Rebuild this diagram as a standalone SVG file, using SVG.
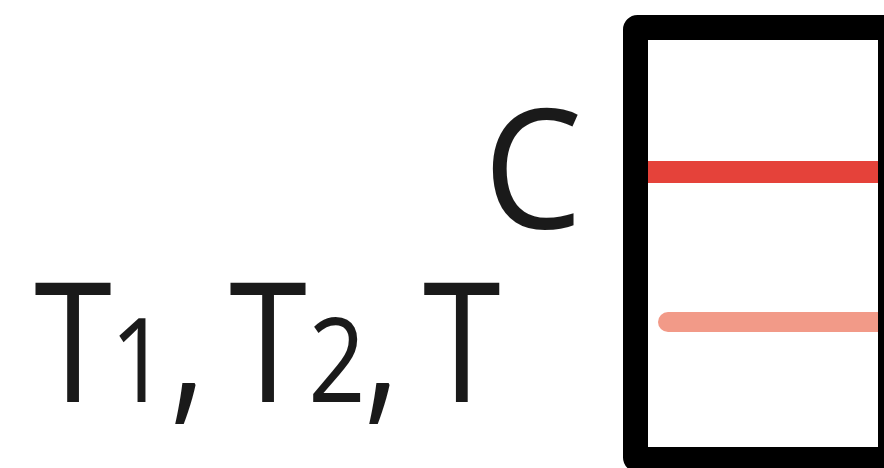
<svg xmlns="http://www.w3.org/2000/svg" width="884" height="468" viewBox="0 0 884 468">
<style>
.lbl{font-family:"Open Sans","Noto Sans","DejaVu Sans",sans-serif;fill:#1a1a1a;text-anchor:middle;font-weight:380}
.big{font-size:166px}
.sub{font-size:118px}
</style>
<rect width="884" height="468" fill="#ffffff"/>
<g id="frame-bg">
<rect x="635.5" y="27.5" width="255" height="432" fill="#ffffff"/>
</g>
<g id="lines">
<line id="line-c" x1="648" y1="172" x2="878" y2="172" stroke="#e5423a" stroke-width="22"/>
<line id="line-t" x1="668" y1="322" x2="878" y2="322" stroke="#f29a88" stroke-width="20" stroke-linecap="round"/>
</g>
<g id="frame">
<rect x="635.5" y="27.5" width="255" height="432" rx="2" fill="none" stroke="#000000" stroke-width="25"/>
</g>
<g id="label-c" transform="scale(0.95,1)">
<text class="lbl big" x="561" y="228">C</text>
</g>
<g id="label-t" transform="scale(0.85,1)">
<text class="lbl big" x="86" y="402">T</text>
<text class="lbl sub" x="163.5" y="402">1</text>
<text class="lbl big" x="221" y="402">,</text>
<text class="lbl big" x="315.3" y="402">T</text>
<text class="lbl sub" x="396.5" y="402">2</text>
<text class="lbl big" x="449" y="402">,</text>
<text class="lbl big" x="543.5" y="402">T</text>
</g>
</svg>
